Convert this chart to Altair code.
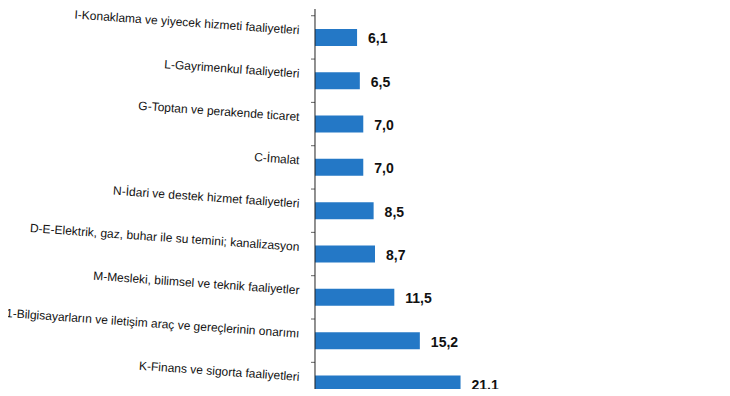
import altair as alt
import pandas as pd

categories = [
    "I-Konaklama ve yiyecek hizmeti faaliyetleri",
    "L-Gayrimenkul faaliyetleri",
    "G-Toptan ve perakende ticaret",
    "C-İmalat",
    "N-İdari ve destek hizmet faaliyetleri",
    "D-E-Elektrik, gaz, buhar ile su temini; kanalizasyon",
    "M-Mesleki, bilimsel ve teknik faaliyetler",
    "1-Bilgisayarların ve iletişim araç ve gereçlerinin onarımı",
    "K-Finans ve sigorta faaliyetleri",
]
values = [6.1, 6.5, 7.0, 7.0, 8.5, 8.7, 11.5, 15.2, 21.1]

df = pd.DataFrame({
    "cat": categories,
    "val": values,
    "idx": list(range(len(categories))),
    "z": [0.0] * len(categories),
    "lbl": [f"{v:.1f}".replace(".", ",") for v in values],
})
ticks = pd.DataFrame({"b": [i - 0.5 for i in range(len(categories) + 1)],
                      "z": [0.0] * (len(categories) + 1)})
axis_df = pd.DataFrame({"z": [0.0]})

FONT = "Liberation Sans"
xs = alt.Scale(domain=[-44.5, 59], nice=False, zero=False)
ys = alt.Scale(domain=[-0.54, 8.0], nice=False, zero=False, reverse=True)

base = alt.Chart(df)
X = alt.X("val:Q", scale=xs, axis=None)
Y = alt.Y("idx:Q", scale=ys, axis=None)
Z = alt.X("z:Q", scale=xs, axis=None)

bars = base.mark_bar(size=17, orient="horizontal", color="#2478c6", clip=True).encode(
    x=X, x2="z:Q", y=Y
)
vals = base.mark_text(
    align="left", baseline="middle", dx=11, dy=2, font=FONT, fontSize=14,
    fontWeight="bold", color="#111111", clip=True
).encode(x=X, y=Y, text="lbl:N")
cats = base.mark_text(
    align="right", baseline="middle", dx=-16, dy=-6, angle=4, font=FONT,
    fontSize=12, color="#111111", clip=True
).encode(x=Z, y=Y, text="cat:N")
axis_line = alt.Chart(axis_df).mark_rule(color="#222222", strokeWidth=1).encode(x=Z)
tick_marks = alt.Chart(ticks).mark_tick(
    orient="horizontal", size=4, xOffset=-2, color="#222222", thickness=1, clip=True
).encode(x=Z, y=alt.Y("b:Q", scale=ys, axis=None))

chart = alt.layer(bars, axis_line, tick_marks, vals, cats).properties(
    width=714, height=380, padding=0, background="white"
).configure_view(stroke=None)

chart.save("out.html", embed_options={"renderer": "svg", "actions": False})
